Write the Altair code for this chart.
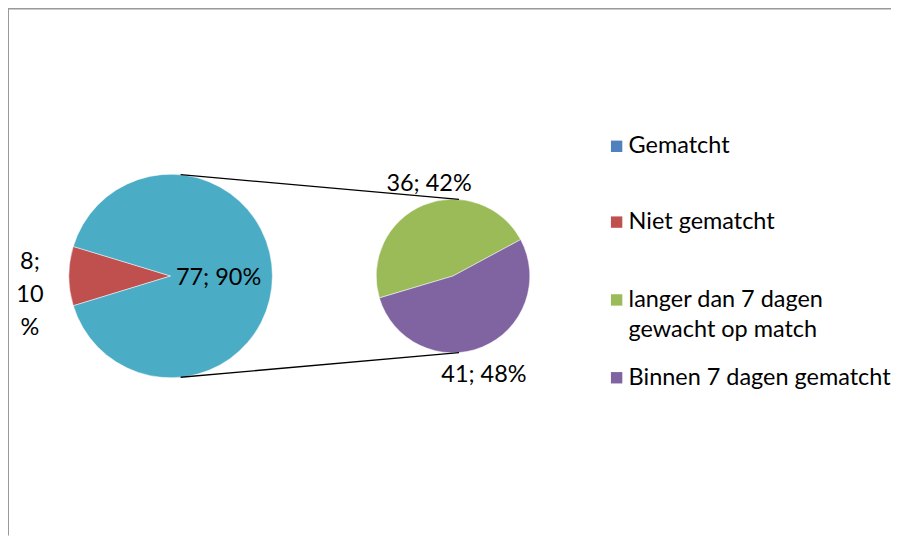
import math
import altair as alt
import pandas as pd

# ---- data ----
main_cats = ["Niet gematcht", "Gematcht"]
main_vals = [8, 77]
main_pcts = [10, 90]
main_colors = ["#C0504D", "#4BACC6"]

sub_cats = ["langer dan 7 dagen gewacht op match", "Binnen 7 dagen gematcht"]
sub_vals = [36, 41]
sub_pcts = [42, 48]
sub_colors = ["#9BBB59", "#8064A2"]

legend_labels = [["Gematcht"], ["Niet gematcht"],
                 ["langer dan 7 dagen", "gewacht op match"],
                 ["Binnen 7 dagen gematcht"]]
legend_colors = ["#4F81BD", "#C0504D", "#9BBB59", "#8064A2"]

# ---- layout ----
OFF = 8
W, H = 885, 528
FONT = "Lato"
FS = 23.5


def px(v):
    return v - OFF


main_c = (px(171), px(276))
main_r = 102
sub_c = (px(454), px(276))
sub_r = 77
main_start = math.radians(253)
sub_start = math.radians(253.4)

dummy = pd.DataFrame({"a": [0]})


def pie(cats, vals, colors, center, r, start):
    df = pd.DataFrame({"cat": cats, "val": vals, "col": colors,
                       "ord": list(range(len(cats)))})
    return alt.Chart(df).mark_arc(radius=r, x=center[0], y=center[1],
                                  stroke="white", strokeWidth=0.5).encode(
        theta=alt.Theta("val:Q", stack=True,
                        scale=alt.Scale(range=[start, start + 2 * math.pi])),
        color=alt.Color("col:N", scale=None),
        order=alt.Order("ord:Q"),
    )


def label(text, x, y, align="center", lh=None):
    kw = dict(font=FONT, fontSize=FS, color="black", align=align, baseline="middle")
    if lh:
        kw["lineHeight"] = lh
    return alt.Chart(dummy).mark_text(**kw).encode(
        x=alt.value(x), y=alt.value(y), text=alt.value(text))


def rule(x1, y1, x2, y2, color="black", width=1.3):
    return alt.Chart(dummy).mark_rule(color=color, strokeWidth=width).encode(
        x=alt.value(x1), y=alt.value(y1), x2=alt.value(x2), y2=alt.value(y2))


layers = []
# border (top and left)
layers.append(rule(0, 0, W, 0, color="#999999", width=2))
layers.append(rule(0, 0, 0, H, color="#999999", width=2))

layers.append(pie(main_cats, main_vals, main_colors, main_c, main_r, main_start))
layers.append(pie(sub_cats, sub_vals, sub_colors, sub_c, sub_r, sub_start))

# connectors
mdx, sdx = 10, 6
my = math.sqrt(main_r ** 2 - mdx ** 2)
sy = math.sqrt(sub_r ** 2 - sdx ** 2)
layers.append(rule(main_c[0] + mdx, main_c[1] - my, sub_c[0] + sdx, sub_c[1] - sy))
layers.append(rule(main_c[0] + mdx, main_c[1] + my, sub_c[0] + sdx, sub_c[1] + sy))

# data labels
layers.append(label(f"{main_vals[1]}; {main_pcts[1]}%", px(219), px(278)))
layers.append(label([f"{main_vals[0]};", f"{main_pcts[0]}", "%"], px(30), px(262), lh=33))
layers.append(label(f"{sub_vals[0]}; {sub_pcts[0]}%", px(430), px(184)))
layers.append(label(f"{sub_vals[1]}; {sub_pcts[1]}%", px(485), px(375)))

# legend
leg_y = [146, 222, 300, 378]
for lab, col, y in zip(legend_labels, legend_colors, leg_y):
    layers.append(alt.Chart(dummy).mark_square(size=130, color=col, opacity=1).encode(
        x=alt.value(px(618)), y=alt.value(px(y))))
    layers.append(label(lab if len(lab) > 1 else lab[0], px(630), px(y),
                        align="left", lh=30))

chart = alt.layer(*layers).resolve_scale(theta="independent").properties(
    width=W, height=H, padding=0, autosize="none"
).configure_view(stroke=None)

chart.save("out.html", embed_options={"renderer": "svg", "actions": False})
